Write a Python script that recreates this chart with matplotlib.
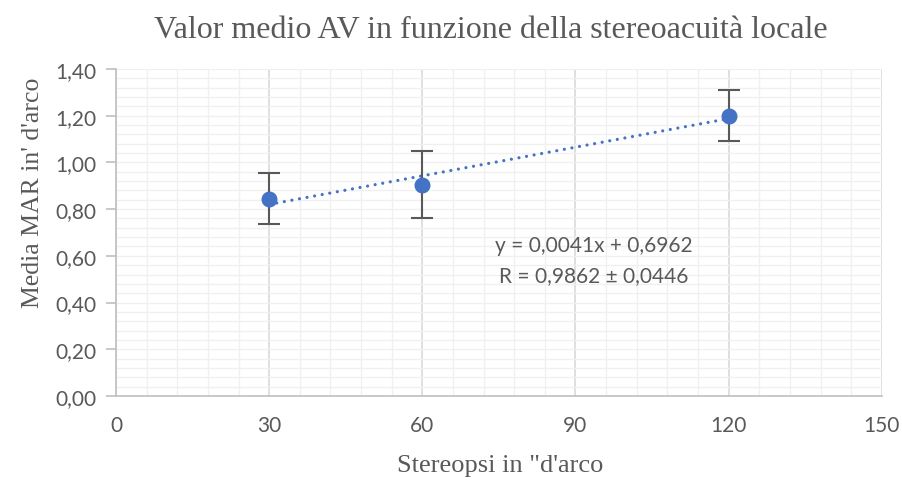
import numpy as np
import matplotlib
matplotlib.use("Agg")
import matplotlib.pyplot as plt
from matplotlib.ticker import MultipleLocator, FuncFormatter

# dati
stereopsi = [30, 60, 120]
media_mar = [0.845, 0.905, 1.20]
errore = [0.11, 0.145, 0.11]

titolo = "Valor medio AV in funzione della stereoacuità locale"
label_x = "Stereopsi in \"d'arco"
label_y = "Media MAR in' d'arco"
eq_text = "y = 0,0041x + 0,6962\nR = 0,9862 ± 0,0446"

blu = "#4472C4"
grigio = "#595959"

fig = plt.figure(figsize=(9.03, 4.81), dpi=100)
ax = fig.add_axes([0.1285, 0.1746, 0.848, 0.68])

ax.set_xlim(0, 150)
ax.set_ylim(0, 1.4)
ax.xaxis.set_major_locator(MultipleLocator(30))
ax.xaxis.set_minor_locator(MultipleLocator(6))
ax.yaxis.set_major_locator(MultipleLocator(0.2))
ax.yaxis.set_minor_locator(MultipleLocator(0.04))

# griglia stile Excel
ax.grid(True, which="minor", axis="both", color="#f0f0f0", lw=1.0, zorder=0)
ax.grid(True, which="major", axis="y", color="#f0f0f0", lw=1.0, zorder=0)
ax.grid(True, which="major", axis="x", color="#d9d9d9", lw=1.2, zorder=0)

for s in ["top", "right"]:
    ax.spines[s].set_visible(False)
for s in ["left", "bottom"]:
    ax.spines[s].set_color("#bfbfbf")
    ax.spines[s].set_linewidth(1.2)

ax.tick_params(axis="y", which="major", length=7, color="#bfbfbf", width=1.2,
               labelsize=15, labelcolor=grigio, pad=7)
ax.tick_params(axis="x", which="major", length=0, labelsize=15,
               labelcolor=grigio, pad=14)
ax.tick_params(which="minor", length=0)
ax.yaxis.set_major_formatter(FuncFormatter(lambda v, p: f"{v:.2f}".replace(".", ",")))
for lab in ax.get_xticklabels() + ax.get_yticklabels():
    lab.set_family("Lato")

# linea di tendenza
coef = np.polyfit(stereopsi, media_mar, 1)
xt = np.array([stereopsi[0], stereopsi[-1]])
ax.plot(xt, np.polyval(coef, xt), color=blu, lw=2.3, ls=(0, (0.01, 2.4)),
        dash_capstyle="round", zorder=3)

ax.errorbar(stereopsi, media_mar, yerr=errore, fmt="none", ecolor=grigio,
            elinewidth=1.5, capsize=8, capthick=1.5, zorder=4)
ax.plot(stereopsi, media_mar, "o", color=blu, ms=10.5, zorder=5)

ax.text(93.5, 0.582, eq_text, ha="center", va="center", fontsize=15,
        color=grigio, family="Lato", linespacing=1.6)

fig.text(0.543, 0.936, titolo, ha="center", va="center", fontsize=23,
         color=grigio, family="Liberation Serif")
fig.text(0.554, 0.031, label_x, ha="center", va="center", fontsize=19,
         color=grigio, family="Liberation Serif")
fig.text(0.036, 0.6, label_y, ha="center", va="center", rotation=90,
         fontsize=18.5, color=grigio, family="Liberation Serif")

fig.savefig("out.png", dpi=100)
